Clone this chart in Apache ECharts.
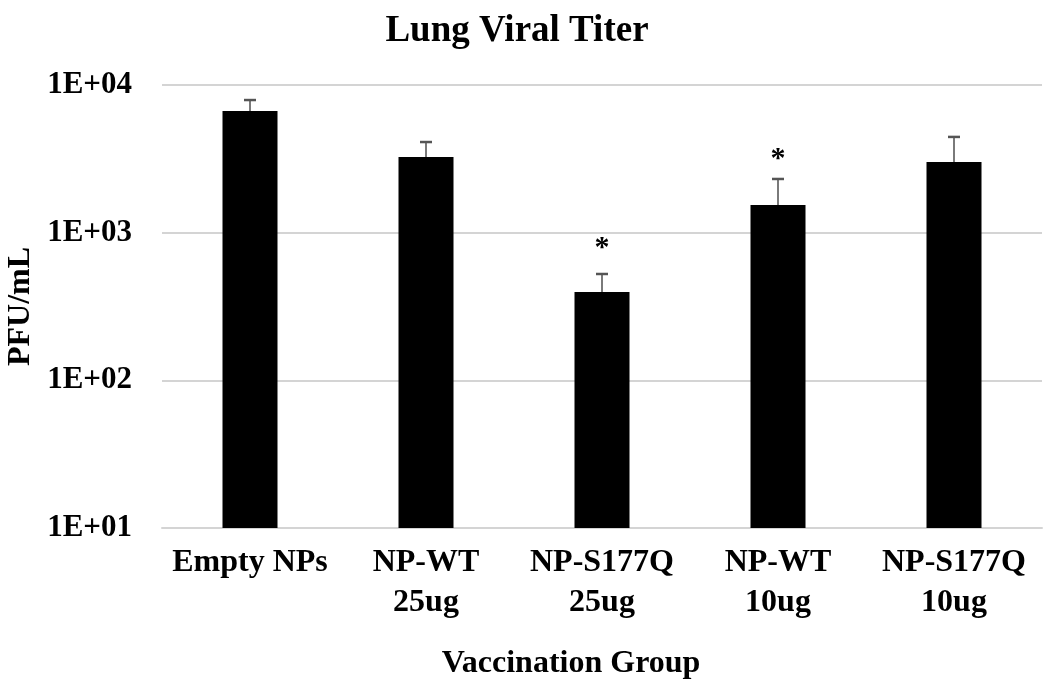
<!DOCTYPE html>
<html>
<head>
<meta charset="utf-8">
<script src="https://cdn.jsdelivr.net/npm/echarts@6/dist/echarts.min.js"></script>
<style>html,body{margin:0;padding:0;background:#fff}#c{width:1063px;height:689px}</style>
</head>
<body>
<div id="c"></div>
<script>
var categories = ['Empty NPs', 'NP-WT\n25ug', 'NP-S177Q\n25ug', 'NP-WT\n10ug', 'NP-S177Q\n10ug'];
var titerMean = [6670, 3250, 397, 1540, 3010];
var titerUpper = [7910, 4110, 525, 2310, 4450];
var asteriskAt = [null, null, 838, 3360, null];
var yTickLabels = {10: '1E+01', 100: '1E+02', 1000: '1E+03', 10000: '1E+04'};

var FONT = '"Liberation Serif", "Times New Roman", serif';
var chart = echarts.init(document.getElementById('c'));

var errData = titerMean.map(function (v, i) { return [i, v, titerUpper[i]]; });
var starData = [];
asteriskAt.forEach(function (v, i) { if (v !== null) starData.push([i, v]); });

chart.setOption({
  animation: false,
  backgroundColor: '#ffffff',
  grid: { left: 162, right: 21, top: 85, bottom: 161, containLabel: false, outerBoundsMode: 'none' },
  graphic: [
    { type: 'text', x: 517, y: 31, style: { text: 'Lung Viral Titer', font: 'bold 37px ' + FONT, fill: '#000', textAlign: 'center', textVerticalAlign: 'middle' } },
    { type: 'text', x: 571, y: 664, style: { text: 'Vaccination Group', font: 'bold 32px ' + FONT, fill: '#000', textAlign: 'center', textVerticalAlign: 'middle' } }
  ],
  xAxis: {
    type: 'category',
    data: categories,
    axisLine: { show: true, lineStyle: { color: '#d4d4d4', width: 2 } },
    axisTick: { show: false },
    axisLabel: { color: '#000', fontFamily: FONT, fontWeight: 'bold', fontSize: 32, lineHeight: 40, margin: 15, interval: 0 }
  },
  yAxis: {
    type: 'log',
    logBase: 10,
    min: 10,
    max: 10000,
    name: 'PFU/mL',
    nameLocation: 'middle',
    nameGap: 125,
    nameMoveOverlap: false,
    nameTextStyle: { color: '#000', fontFamily: FONT, fontWeight: 'bold', fontSize: 32 },
    axisLine: { show: false },
    axisTick: { show: false },
    splitLine: { show: true, lineStyle: { color: '#d4d4d4', width: 2 } },
    axisLabel: {
      color: '#000', fontFamily: FONT, fontWeight: 'bold', fontSize: 31, margin: 30,
      formatter: function (v) { var k = Math.round(v); return yTickLabels[k] || ''; }
    }
  },
  series: [
    {
      type: 'bar',
      data: titerMean,
      barWidth: 55,
      itemStyle: { color: '#000' },
      z: 2
    },
    {
      type: 'custom',
      data: errData,
      z: 3,
      renderItem: function (params, api) {
        var top = api.coord([api.value(0), api.value(2)]);
        var base = api.coord([api.value(0), api.value(1)]);
        var st = { stroke: '#7a7a7a', lineWidth: 2 };
        return {
          type: 'group',
          children: [
            { type: 'line', shape: { x1: top[0], y1: base[1], x2: top[0], y2: top[1] }, style: st },
            { type: 'line', shape: { x1: top[0] - 6, y1: top[1], x2: top[0] + 6, y2: top[1] }, style: { stroke: '#555', lineWidth: 2.5 } }
          ]
        };
      }
    },
    {
      type: 'custom',
      data: starData,
      z: 3,
      renderItem: function (params, api) {
        var p = api.coord([api.value(0), api.value(1)]);
        return {
          type: 'text',
          x: p[0], y: p[1] + 4,
          style: { text: '*', font: 'bold 30px ' + FONT, fill: '#000', textAlign: 'center', textVerticalAlign: 'middle' }
        };
      }
    }
  ]
});
</script>
</body>
</html>
